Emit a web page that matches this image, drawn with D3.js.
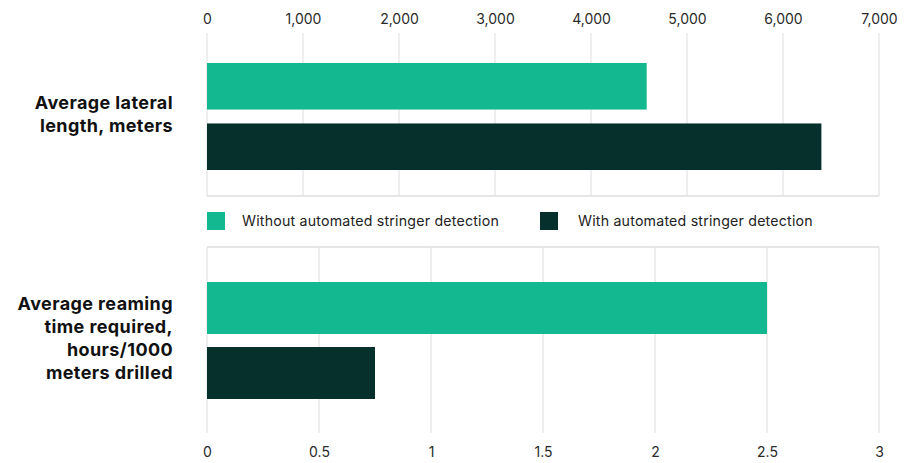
<!DOCTYPE html>
<html>
<head>
<meta charset="utf-8">
<script src="https://cdn.jsdelivr.net/npm/d3@7"></script>
<style>
  body { margin: 0; background: #fff; }
  svg { display: block; }
</style>
</head>
<body>
<svg id="chart" width="914" height="463"></svg>
<script>
// data
const series = ["Without automated stringer detection", "With automated stringer detection"];
const colors = ["#13b890", "#05302b"];
const lateralLength = [4580, 6400];
const reamingTime = [2.5, 0.75];
const lateralTicks = [0, 1000, 2000, 3000, 4000, 5000, 6000, 7000];
const reamingTicks = [0, 0.5, 1, 1.5, 2, 2.5, 3];
const lateralLabel = ["Average lateral", "length, meters"];
const reamingLabel = ["Average reaming", "time required,", "hours/1000", "meters drilled"];

const svg = d3.select("#chart");
const tickFont = "Inter, 'Noto Sans', sans-serif";
const gridColor = "#dedede";

function panel(opts) {
  const { values, ticks, max, top, bottom, barTop, barBottom, pad, axisTop, labelLines, labelY, fmt, border } = opts;
  const x = d3.scaleLinear().domain([0, max]).range([207, 879]);
  const y = d3.scaleBand().domain(series).range([barTop, barBottom]).paddingInner(pad);
  const g = svg.append("g");

  // gridlines
  g.selectAll(".grid").data(ticks).join("line")
    .attr("x1", d => x(d)).attr("x2", d => x(d))
    .attr("y1", top).attr("y2", bottom)
    .attr("stroke", gridColor).attr("stroke-width", 1);

  if (border === "bottom") {
    g.append("line").attr("x1", x(0)).attr("x2", x(max)).attr("y1", bottom).attr("y2", bottom)
      .attr("stroke", gridColor).attr("stroke-width", 1.5);
  } else {
    g.append("line").attr("x1", x(0)).attr("x2", x(max)).attr("y1", top).attr("y2", top)
      .attr("stroke", gridColor).attr("stroke-width", 1.5);
  }

  g.selectAll(".bar").data(values).join("rect")
    .attr("x", x(0))
    .attr("y", (d, i) => y(series[i]))
    .attr("width", d => x(d) - x(0))
    .attr("height", y.bandwidth())
    .attr("fill", (d, i) => colors[i]);

  // axis labels
  const axis = axisTop ? d3.axisTop(x) : d3.axisBottom(x);
  axis.tickValues(ticks).tickFormat(fmt).tickSize(0).tickPadding(0);
  const ax = g.append("g")
    .attr("transform", `translate(0,${axisTop ? 24 : 446})`)
    .call(axis);
  ax.select(".domain").remove();
  ax.selectAll("text")
    .attr("font-family", tickFont)
    .attr("font-size", 14)
    .attr("fill", "#2a2a2a")
    .attr("dy", axisTop ? "0" : "0.75em");

  // category label
  const t = g.append("text")
    .attr("text-anchor", "end")
    .attr("font-family", "Inter, 'Open Sans', sans-serif")
    .attr("font-weight", 700)
    .attr("font-size", 18)
    .attr("letter-spacing", 0.4)
    .attr("fill", "#111");
  labelLines.forEach((l, i) => {
    t.append("tspan").attr("x", 173).attr("y", labelY + i * 23).text(l);
  });
}

panel({
  values: lateralLength, ticks: lateralTicks, max: 7000,
  top: 33, bottom: 196, barTop: 63, barBottom: 170, pad: 0.23,
  axisTop: true, labelLines: lateralLabel, labelY: 109,
  fmt: d3.format(","), border: "bottom"
});

panel({
  values: reamingTime, ticks: reamingTicks, max: 3,
  top: 247, bottom: 433, barTop: 282, barBottom: 399, pad: 0.2,
  axisTop: false, labelLines: reamingLabel, labelY: 310,
  fmt: d => d3.format("")(d), border: "top"
});

// legend
const legendX = [207, 540];
const lg = svg.append("g").selectAll("g").data(series).join("g")
  .attr("transform", (d, i) => `translate(${legendX[i]},212)`);
lg.append("rect").attr("width", 18).attr("height", 18).attr("fill", (d, i) => colors[i]);
lg.append("text")
  .attr("x", (d, i) => i ? 38 : 35).attr("y", 14)
  .attr("font-family", tickFont)
  .attr("font-size", 14.2)
  .attr("letter-spacing", 0.2)
  .attr("fill", "#222")
  .text(d => d);
</script>
</body>
</html>
